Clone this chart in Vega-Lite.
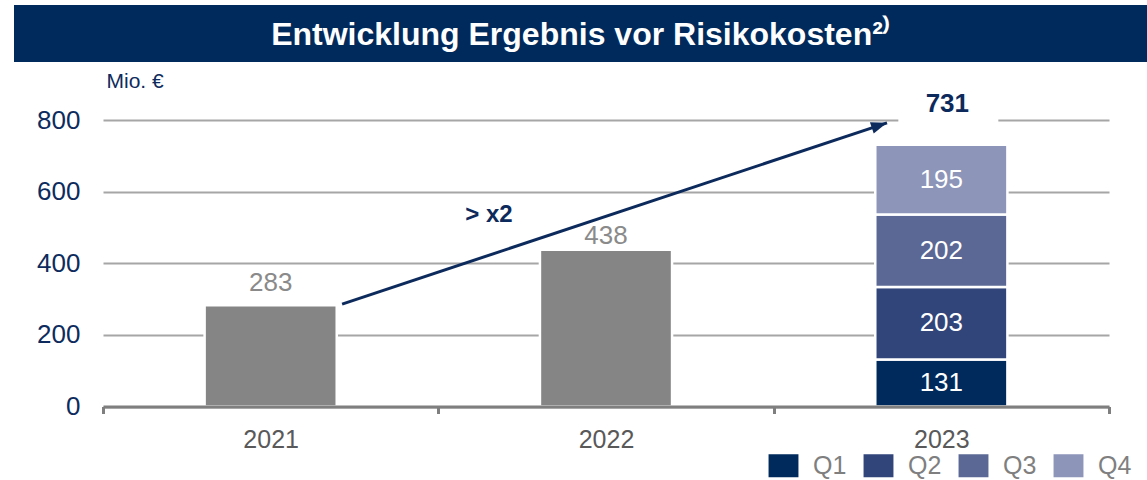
{
  "$schema": "https://vega.github.io/schema/vega-lite/v6.json",
  "padding": {"left": 14, "top": 5, "right": 0, "bottom": 0},
  "background": "white",
  "config": {"font": "Liberation Sans", "view": {"stroke": null}},
  "columns": 1,
  "spacing": 0,
  "resolve": {"scale": {"color": "independent"}, "legend": {"color": "independent"}},
  "concat": [
    {
      "width": 1133,
      "height": 57,
      "view": {"fill": "#002a5c", "stroke": null},
      "data": {"values": [{"title": "Entwicklung Ergebnis vor Risikokosten²⁾"}]},
      "mark": {"type": "text", "fontSize": 32, "fontWeight": "bold", "color": "white", "baseline": "middle", "dy": 1},
      "encoding": {"text": {"field": "title"}}
    },
    {
      "width": 1133,
      "height": 344.5,
      "layer": [
        {
          "data": {"values": [
            {"year": "2021", "seg": "Gesamt", "value": 283},
            {"year": "2022", "seg": "Gesamt", "value": 438},
            {"year": "2023", "seg": "Q1", "value": 131},
            {"year": "2023", "seg": "Q2", "value": 203},
            {"year": "2023", "seg": "Q3", "value": 202},
            {"year": "2023", "seg": "Q4", "value": 195}
          ]},
          "layer": [
            {
              "mark": {"type": "bar", "width": {"band": 0.394}, "stroke": "white", "strokeWidth": 2.5},
              "encoding": {
                "x": {"field": "year", "type": "nominal",
                  "scale": {"range": [89, 1095], "paddingInner": 0, "paddingOuter": 0},
                  "axis": {"title": null, "labelAngle": 0, "labelFontSize": 25, "labelColor": "#595959", "labelPadding": 14,
                    "tickBand": "extent", "tickSize": 7, "tickWidth": 3, "tickColor": "#7f7f7f",
                    "domainColor": "#7f7f7f", "domainWidth": 3, "grid": false, "zindex": 1}},
                "y": {"field": "value", "type": "quantitative", "stack": "zero",
                  "scale": {"domain": [0, 800], "range": [344.5, 58], "nice": false},
                  "axis": {"title": "Mio. €", "titleAngle": 0, "titleAlign": "left", "titleBaseline": "alphabetic",
                    "titleX": 3, "titleY": 25, "titleFontSize": 21, "titleFontWeight": "normal", "titleColor": "#0e2b5e",
                    "values": [0, 200, 400, 600, 800], "labelFontSize": 26, "labelColor": "#0e2b5e", "labelPadding": 23,
                    "ticks": false, "tickSize": 0, "domain": false, "grid": true, "gridColor": "#a6a6a6", "gridWidth": 2,
                    "offset": -89}},
                "color": {"field": "seg", "type": "nominal",
                  "scale": {"domain": ["Q1", "Q2", "Q3", "Q4", "Gesamt"], "range": ["#002a5c", "#31457a", "#5b6895", "#8d95b9", "#858585"]},
                  "legend": {"values": ["Q1", "Q2", "Q3", "Q4"], "title": null, "orient": "none", "legendX": 757, "legendY": 391,
                    "direction": "horizontal", "columns": 4, "symbolType": "M-1.3,-1H1.3V1H-1.3Z", "symbolSize": 529,
                    "symbolStrokeWidth": 0, "labelFontSize": 25, "labelColor": "#7f7f7f", "labelOffset": 17,
                    "columnPadding": 16, "padding": 0}},
                "order": {"field": "seg", "sort": "ascending"}
              }
            },
            {
              "transform": [{"filter": "datum.year === '2021'"}],
              "mark": {"type": "text", "fontSize": 26, "color": "#8a8a8a", "baseline": "alphabetic", "dy": -14},
              "encoding": {
                "x": {"field": "year", "type": "nominal"},
                "y": {"field": "value", "type": "quantitative"},
                "text": {"field": "value"}
              }
            },
            {
              "transform": [{"filter": "datum.year === '2022'"}],
              "mark": {"type": "text", "fontSize": 26, "color": "#8a8a8a", "baseline": "alphabetic", "dy": -6},
              "encoding": {
                "x": {"field": "year", "type": "nominal"},
                "y": {"field": "value", "type": "quantitative"},
                "text": {"field": "value"}
              }
            },
            {
              "transform": [{"filter": "datum.seg !== 'Gesamt'"}],
              "mark": {"type": "text", "fontSize": 26, "color": "white", "baseline": "middle"},
              "encoding": {
                "x": {"field": "year", "type": "nominal"},
                "y": {"field": "value", "type": "quantitative", "stack": "zero", "bandPosition": 0.5},
                "detail": {"field": "seg"},
                "order": {"field": "seg", "sort": "ascending"},
                "text": {"field": "value"}
              }
            },
            {
              "data": {"values": [{"year": "2023", "total": 731}]},
              "mark": {"type": "tick", "orient": "horizontal", "size": 100, "thickness": 5, "color": "white", "opacity": 1, "xOffset": 7},
              "encoding": {
                "x": {"field": "year", "type": "nominal"},
                "y": {"datum": 800}
              }
            },
            {
              "data": {"values": [{"year": "2023", "total": 731}]},
              "mark": {"type": "text", "fontSize": 26, "fontWeight": "bold", "color": "#0d2a5c", "baseline": "alphabetic", "dy": -33, "dx": 6},
              "encoding": {
                "x": {"field": "year", "type": "nominal"},
                "y": {"field": "total", "type": "quantitative"},
                "text": {"field": "total"}
              }
            }
          ]
        },
        {
          "data": {"values": [
            {"p": 0.713, "v": 286, "tip": false},
            {"p": 2.338, "v": 792, "tip": true}
          ]},
          "layer": [
            {
              "mark": {"type": "line", "color": "#0d2a5c", "strokeWidth": 3},
              "encoding": {
                "x": {"field": "p", "type": "quantitative", "scale": {"domain": [0, 3], "range": [89, 1095], "nice": false, "zero": false}, "axis": null},
                "y": {"field": "v", "type": "quantitative"}
              }
            },
            {
              "transform": [{"filter": "datum.tip"}],
              "mark": {"type": "point", "shape": "M0,0L-2,-0.75L-2,0.75Z", "filled": true, "opacity": 1, "color": "#0d2a5c", "size": 256, "angle": -18.4},
              "encoding": {
                "x": {"field": "p", "type": "quantitative"},
                "y": {"field": "v", "type": "quantitative"}
              }
            },
            {
              "data": {"values": [{"p": 1.151, "v": 535, "label": "> x2"}]},
              "mark": {"type": "text", "fontSize": 24, "fontWeight": "bold", "color": "#0d2a5c", "baseline": "middle"},
              "encoding": {
                "x": {"field": "p", "type": "quantitative"},
                "y": {"field": "v", "type": "quantitative"},
                "text": {"field": "label"}
              }
            }
          ]
        }
      ],
      "resolve": {"scale": {"x": "independent"}}
    }
  ]
}
